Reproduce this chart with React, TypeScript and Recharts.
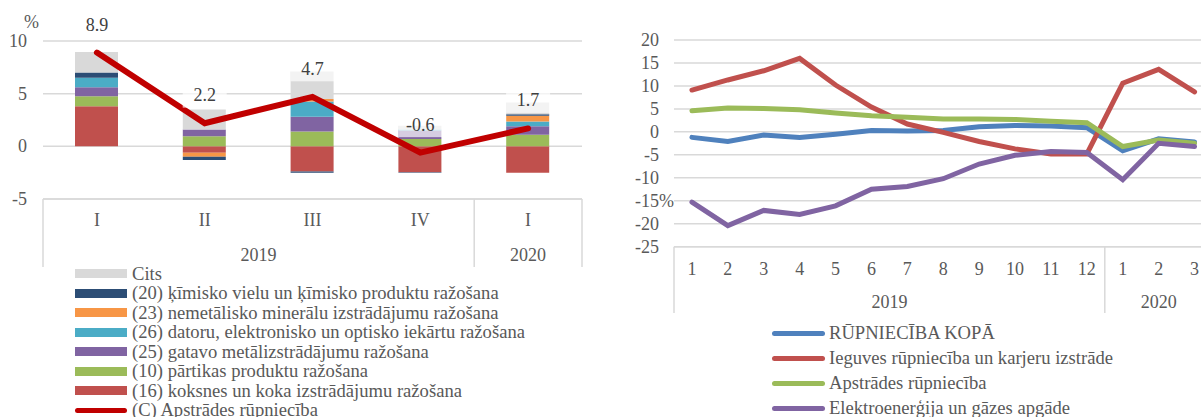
import React from "react";
import {
  ComposedChart,
  LineChart,
  Bar,
  Line,
  XAxis,
  YAxis,
  CartesianGrid,
  LabelList,
} from "recharts";

// left panel: quarterly contributions, %
const quarters = ["I", "II", "III", "IV", "I"];
const quarterYears = ["2019", "2019", "2019", "2019", "2020"];
const wood16 = [3.8, -0.6, -2.4, -2.45, -2.5];
const food10 = [0.95, 0.95, 1.4, 0.7, 1.1];
const metal25 = [0.85, 0.65, 1.4, 0.8, 0.8];
const electronics26 = [0.9, 0, 1.45, 0.1, 0.45];
const mineral23 = [0, -0.4, 0.25, 0, 0.55];
const chemical20 = [0.5, -0.3, -0.1, -0.05, 0.15];
const other = [1.95, 1.9, 2.6, 0.35, 1.1];
const manufacturingQ = [8.9, 2.2, 4.7, -0.6, 1.7];

// right panel: monthly change, %
const months = ["1", "2", "3", "4", "5", "6", "7", "8", "9", "10", "11", "12", "1", "2", "3"];
const monthYears = ["2019", "2019", "2019", "2019", "2019", "2019", "2019", "2019", "2019", "2019", "2019", "2019", "2020", "2020", "2020"];
const industryTotal = [-1.2, -2.1, -0.7, -1.2, -0.5, 0.3, 0.2, 0.3, 1.1, 1.4, 1.3, 0.9, -4.1, -1.5, -2.2];
const mining = [9.1, 11.3, 13.3, 16.0, 10.2, 5.4, 1.7, -0.1, -2.1, -3.7, -4.8, -4.8, 10.6, 13.6, 8.7];
const manufacturingM = [4.6, 5.2, 5.1, 4.8, 4.1, 3.5, 3.2, 2.8, 2.8, 2.7, 2.3, 2.0, -3.2, -1.8, -2.5];
const energy = [-15.3, -20.4, -17.1, -18.0, -16.1, -12.5, -11.9, -10.2, -7.0, -5.1, -4.3, -4.5, -10.4, -2.5, -3.2];

const FONT = '"Liberation Serif", "Times New Roman", serif';
const TEXT = "#595959";
const GRID = "#d9d9d9";

const barSeries = [
  { key: "wood16", name: "(16) koksnes un koka izstrādājumu ražošana", color: "#c0504d", values: wood16 },
  { key: "food10", name: "(10) pārtikas produktu ražošana", color: "#9bbb59", values: food10 },
  { key: "metal25", name: "(25) gatavo metālizstrādājumu ražošana", color: "#8064a2", values: metal25 },
  { key: "electronics26", name: "(26) datoru, elektronisko un optisko iekārtu ražošana", color: "#4bacc6", values: electronics26 },
  { key: "mineral23", name: "(23) nemetālisko minerālu izstrādājumu ražošana", color: "#f79646", values: mineral23 },
  { key: "chemical20", name: "(20) ķīmisko vielu un ķīmisko produktu ražošana", color: "#2c4d75", values: chemical20 },
  { key: "other", name: "Cits", color: "#d9d9d9", values: other },
];

const lineSeries = [
  { key: "total", name: "RŪPNIECĪBA KOPĀ", color: "#4f81bd", values: industryTotal },
  { key: "mining", name: "Ieguves rūpniecība un karjeru izstrāde", color: "#c0504d", values: mining },
  { key: "manuf", name: "Apstrādes rūpniecība", color: "#9bbb59", values: manufacturingM },
  { key: "energy", name: "Elektroenerģija un gāzes apgāde", color: "#8064a2", values: energy },
];

const quarterData = quarters.map((q, i) => {
  const row: any = { id: i, q, total: manufacturingQ[i] };
  barSeries.forEach((s) => (row[s.key] = s.values[i]));
  return row;
});

const monthData = months.map((m, i) => {
  const row: any = { id: i, m };
  lineSeries.forEach((s) => (row[s.key] = s.values[i]));
  return row;
});

const L_BAND = 107.8;
const R_BAND = 35.9;

// two-level category axis: labels, year row and separator lines
const makeGroupTick = (
  labels: string[],
  years: string[],
  band: number,
  axisY: number,
  labelY: number,
  yearY: number,
  bottomY: number
) => (props: any) => {
  const { x, payload } = props;
  const i = payload.index;
  const h = band / 2;
  const first = i === 0 || years[i] !== years[i - 1];
  let count = 0;
  if (first) {
    while (years[i + count] === years[i]) count++;
  }
  const last = i === labels.length - 1;
  return (
    <g>
      <text x={x} y={labelY} textAnchor="middle" dominantBaseline="central" fill={TEXT} fontSize={18} fontFamily={FONT}>
        {labels[i]}
      </text>
      {first && (
        <>
          <line x1={x - h} y1={axisY} x2={x - h} y2={bottomY} stroke={GRID} strokeWidth={1.5} />
          <text x={x - h + (count * band) / 2} y={yearY} textAnchor="middle" dominantBaseline="central" fill={TEXT} fontSize={18} fontFamily={FONT}>
            {years[i]}
          </text>
        </>
      )}
      {last && <line x1={x + h} y1={axisY} x2={x + h} y2={bottomY} stroke={GRID} strokeWidth={1.5} />}
    </g>
  );
};

const QuarterTick = makeGroupTick(quarters, quarterYears, L_BAND, 199, 220, 255, 267);
const MonthTick = makeGroupTick(months, monthYears, R_BAND, 246.7, 269.3, 301.7, 313);

const LeftYTick = (props: any) => {
  const { x, y, payload } = props;
  return (
    <g>
      <text x={x} y={y} textAnchor="end" dominantBaseline="central" fill={TEXT} fontSize={18} fontFamily={FONT}>
        {payload.value}
      </text>
      {payload.value === 10 && (
        <text x={x + 4.5} y={21.7} textAnchor="middle" dominantBaseline="central" fill={TEXT} fontSize={18} fontFamily={FONT}>
          %
        </text>
      )}
    </g>
  );
};

const RightYTick = (props: any) => {
  const { x, y, payload } = props;
  return (
    <g>
      <text x={x} y={y} textAnchor="end" dominantBaseline="central" fill={TEXT} fontSize={18} fontFamily={FONT}>
        {payload.value}
      </text>
      {payload.value === -15 && (
        <text x={x} y={y} textAnchor="start" dominantBaseline="central" fill={TEXT} fontSize={18} fontFamily={FONT}>
          %
        </text>
      )}
    </g>
  );
};

const LineValueLabel = (props: any) => {
  const { x, y, value } = props;
  const cy = y - 28;
  return (
    <g>
      <rect x={x - 22} y={cy - 12.5} width={44} height={25} fill="#ffffff" fillOpacity={0.68} />
      <text x={x} y={cy} textAnchor="middle" dominantBaseline="central" fill="#404040" fontSize={18} fontFamily={FONT}>
        {Number(value).toFixed(1)}
      </text>
    </g>
  );
};

const legendText: React.CSSProperties = {
  fontFamily: FONT,
  fontSize: 18.6,
  color: TEXT,
  whiteSpace: "nowrap",
  lineHeight: "20px",
};

export default function App() {
  const leftLegend = [
    ...barSeries.slice().reverse().map((s) => ({ name: s.name, color: s.color, line: false })),
    { name: "(C) Apstrādes rūpniecība", color: "#c00000", line: true },
  ];

  return (
    <div style={{ position: "absolute", left: 0, top: 0, width: 1201, height: 417, overflow: "hidden", background: "#fff" }}>
      <div style={{ position: "absolute", left: 0, top: 0 }}>
        <ComposedChart
          width={600}
          height={280}
          data={quarterData}
          stackOffset="sign"
          margin={{ top: 41, right: 18, bottom: 0, left: 0 }}
        >
          <CartesianGrid vertical={false} stroke={GRID} strokeWidth={1.5} />
          <XAxis
            dataKey="id"
            height={81}
            interval={0}
            axisLine={{ stroke: GRID, strokeWidth: 1.5 }}
            tickLine={false}
            tick={QuarterTick}
          />
          <YAxis
            width={43}
            domain={[-5, 10]}
            ticks={[-5, 0, 5, 10]}
            interval={0}
            axisLine={false}
            tickLine={false}
            tickSize={0}
            tickMargin={16}
            tick={LeftYTick}
          />
          {barSeries.map((s) => (
            <Bar key={s.key} dataKey={s.key} stackId="a" fill={s.color} barSize={43} isAnimationActive={false} />
          ))}
          <Line
            dataKey="total"
            stroke="#c00000"
            strokeWidth={6}
            dot={false}
            strokeLinecap="round"
            isAnimationActive={false}
          >
            <LabelList dataKey="total" content={LineValueLabel} />
          </Line>
        </ComposedChart>
      </div>

      <div style={{ position: "absolute", left: 600, top: 0 }}>
        <LineChart
          width={620}
          height={330}
          data={monthData}
          margin={{ top: 40, right: 7.5, bottom: 0, left: 0 }}
        >
          <CartesianGrid vertical={false} stroke={GRID} strokeWidth={1.5} />
          <XAxis
            dataKey="id"
            scale="band"
            height={83.3}
            interval={0}
            axisLine={{ stroke: GRID, strokeWidth: 1.5 }}
            tickLine={false}
            tick={MonthTick}
          />
          <YAxis
            width={74}
            domain={[-25, 20]}
            ticks={[-25, -20, -15, -10, -5, 0, 5, 10, 15, 20]}
            interval={0}
            axisLine={false}
            tickLine={false}
            tickSize={0}
            tickMargin={15}
            tick={RightYTick}
          />
          {lineSeries.map((s) => (
            <Line
              key={s.key}
              dataKey={s.key}
              stroke={s.color}
              strokeWidth={5}
              dot={false}
              strokeLinecap="round"
              isAnimationActive={false}
            />
          ))}
        </LineChart>
      </div>

      {leftLegend.map((item, i) => (
        <div
          key={item.name}
          style={{ position: "absolute", left: 75, top: 273.5 + i * 19.55 - 10, height: 20, display: "flex", alignItems: "center" }}
        >
          <div
            style={{
              width: 52,
              height: item.line ? 5 : 9,
              background: item.color,
              borderRadius: item.line ? 3 : 0,
            }}
          />
          <span style={{ ...legendText, marginLeft: 5 }}>{item.name}</span>
        </div>
      ))}

      {lineSeries.map((s, i) => (
        <div
          key={s.key}
          style={{ position: "absolute", left: 772, top: 333.3 + i * 25 - 10, height: 20, display: "flex", alignItems: "center" }}
        >
          <div style={{ width: 53, height: 5, background: s.color, borderRadius: 3 }} />
          <span style={{ ...legendText, marginLeft: 4 }}>{s.name}</span>
        </div>
      ))}
    </div>
  );
}
